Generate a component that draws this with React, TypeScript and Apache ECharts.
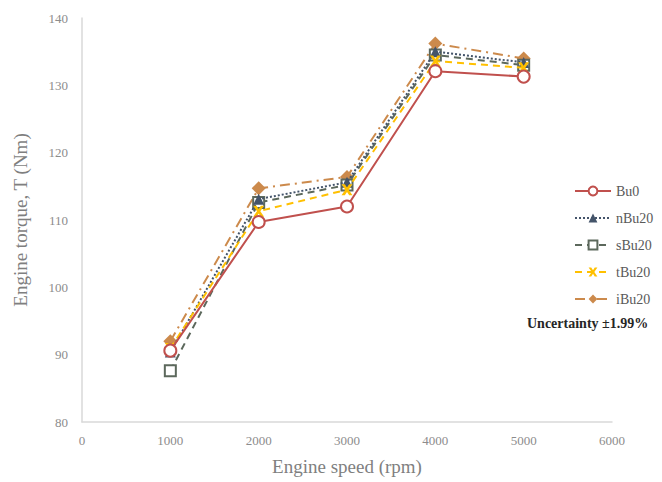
import React, { useEffect, useRef } from "react";
import * as echarts from "echarts";

const speeds = [1000, 2000, 3000, 4000, 5000];
const seriesNames = ["Bu0", "nBu20", "sBu20", "tBu20", "iBu20"];
const bu0 = [90.6, 109.7, 112.0, 132.1, 131.3];
const nBu20 = [90.4, 113.1, 115.6, 135.0, 133.4];
const sBu20 = [87.6, 112.6, 115.2, 134.5, 133.0];
const tBu20 = [90.9, 111.3, 114.5, 133.6, 132.6];
const iBu20 = [92.0, 114.7, 116.4, 136.2, 134.0];
const xTicks = [0, 1000, 2000, 3000, 4000, 5000, 6000];
const yTicks = [80, 90, 100, 110, 120, 130, 140];

const FONT = "Liberation Serif";
const X_PATH = "path://M0,0 L3,0 L5,3 L7,0 L10,0 L6.5,5 L10,10 L7,10 L5,7 L3,10 L0,10 L3.5,5 Z";

export default function App() {
  const ref = useRef<HTMLDivElement>(null);
  useEffect(() => {
    const chart = echarts.init(ref.current!, null, { renderer: "svg" });
    const mk = (arr: number[]) => arr.map((v, i) => [speeds[i], v]);
    chart.setOption({
      animation: false,
      backgroundColor: "#ffffff",
      grid: { left: 82, right: 50, top: 18, bottom: 60 },
      xAxis: {
        type: "value",
        min: xTicks[0],
        max: xTicks[xTicks.length - 1],
        interval: 1000,
        name: "Engine speed (rpm)",
        nameLocation: "middle",
        nameGap: 35,
        nameTextStyle: { fontFamily: FONT, fontSize: 19, color: "#7f7f7f" },
        axisLine: { lineStyle: { color: "#d9d9d9", width: 1.5 } },
        axisTick: { show: false },
        splitLine: { show: false },
        axisLabel: {
          fontFamily: FONT,
          fontSize: 13,
          color: "#8c8c8c",
          margin: 12,
          formatter: (v: number) => String(v),
        },
      },
      yAxis: {
        type: "value",
        min: yTicks[0],
        max: yTicks[yTicks.length - 1],
        interval: 10,
        name: "Engine torque, T (Nm)",
        nameLocation: "middle",
        nameGap: 52,
        nameTextStyle: { fontFamily: FONT, fontSize: 19, color: "#7f7f7f" },
        axisLine: { show: true, lineStyle: { color: "#d9d9d9", width: 1.5 } },
        axisTick: { show: false },
        splitLine: { show: false },
        axisLabel: {
          fontFamily: FONT,
          fontSize: 13,
          color: "#8c8c8c",
          margin: 14,
          formatter: (v: number) => String(v),
        },
      },
      legend: {
        orient: "vertical",
        left: 574,
        top: 184,
        itemWidth: 36,
        itemHeight: 11,
        itemGap: 13,
        padding: 0,
        textStyle: {
          fontFamily: FONT,
          fontSize: 14,
          color: "#595959",
          overflow: "none",
          width: 60,
        },
        data: seriesNames,
      },
      graphic: [
        {
          type: "text",
          left: 527,
          top: 316,
          style: {
            text: "Uncertainty ±1.99%",
            fontFamily: FONT,
            fontSize: 14,
            fontWeight: "bold",
            fill: "#262626",
          },
        },
      ],
      series: [
        {
          name: seriesNames[0],
          type: "line",
          data: mk(bu0),
          symbol: "emptyCircle",
          symbolSize: 12,
          lineStyle: { color: "#c0504d", width: 2 },
          itemStyle: { color: "#c0504d", borderWidth: 2 },
          z: 5,
        },
        {
          name: seriesNames[1],
          type: "line",
          data: mk(nBu20),
          symbol: "triangle",
          symbolSize: 11,
          lineStyle: { color: "#44546a", width: 2, type: [2, 2] },
          itemStyle: { color: "#44546a" },
          z: 3,
        },
        {
          name: seriesNames[2],
          type: "line",
          data: mk(sBu20),
          symbol: "rect",
          symbolSize: 11,
          lineStyle: { color: "#5c685c", width: 2, type: [7, 5] },
          itemStyle: { color: "#ffffff", borderColor: "#5c685c", borderWidth: 2 },
          z: 2,
        },
        {
          name: seriesNames[3],
          type: "line",
          data: mk(tBu20),
          symbol: X_PATH,
          symbolSize: 11,
          lineStyle: { color: "#ffc000", width: 2, type: [7, 5] },
          itemStyle: { color: "#ffc000" },
          z: 4,
        },
        {
          name: seriesNames[4],
          type: "line",
          data: mk(iBu20),
          symbol: "diamond",
          symbolSize: 14,
          lineStyle: { color: "#cc8a4c", width: 2, type: [10, 5, 2, 5] },
          itemStyle: { color: "#cc8a4c" },
          z: 1,
        },
      ],
    });
    return () => chart.dispose();
  }, []);
  return (
    <div
      ref={ref}
      style={{ width: 662, height: 482, marginTop: -8, marginLeft: -8, marginBottom: 0 }}
    />
  );
}
